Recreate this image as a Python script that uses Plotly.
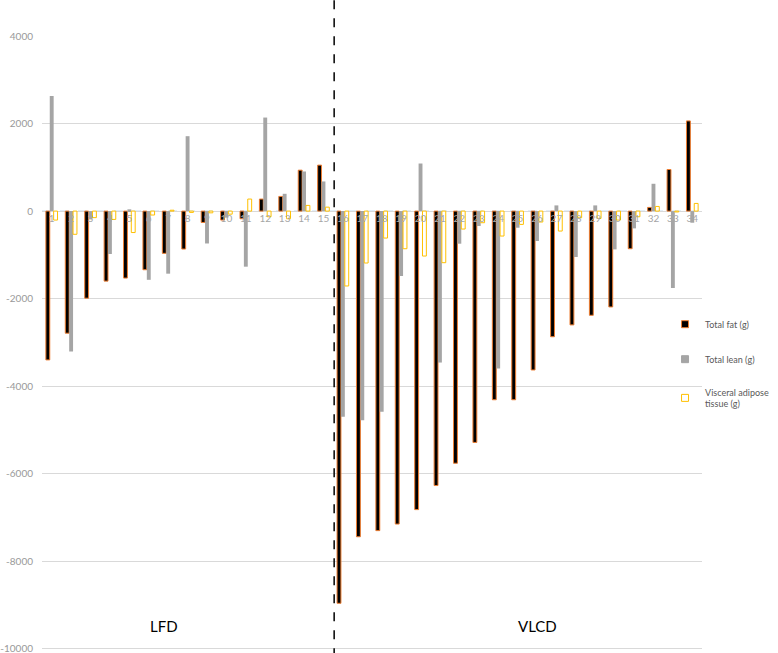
import plotly.graph_objects as go

subjects = list(range(1, 35))
total_fat = [-3400, -2790, -1990, -1600, -1530, -1340, -965, -867, -260, -205, -175, 275, 335, 935, 1050,
             -8960, -7440, -7300, -7150, -6820, -6270, -5760, -5285, -4310, -4310, -3630, -2870, -2600,
             -2380, -2190, -860, 84, 950, 2060]
total_lean = [2630, -3210, -190, -980, 40, -1570, -1430, 1711, -740, -150, -1270, 2137, 395, 905, 677,
              -4700, -4776, -4585, -1483, 1087, -3460, -745, -340, -3597, -380, -684, 130, -1049,
              130, -875, -395, 624, -1757, -266]
visceral = [-205, -530, -150, -190, -490, -90, 20, -30, -40, -70, 275, -130, -175, 130, 90,
            -1711, -1186, -616, -860, -1027, -1179, -410, -266, -570, -304, -250, -456, -152,
            -167, -205, -130, 106, -20, 175]
y_ticks = [4000, 2000, 0, -2000, -4000, -6000, -8000, -10000]
groups = ["LFD", "VLCD"]

FONT = "Lato, Open Sans, sans-serif"
fat_style = dict(color="#000000", line=dict(color="#ED7D31", width=1))
lean_style = dict(color="#A5A5A5", line=dict(color="#A5A5A5", width=0))
visc_style = dict(color="#FFFFFF", line=dict(color="#FFC000", width=1))

fig = go.Figure()
fig.add_bar(x=subjects, y=total_fat, marker=fat_style, showlegend=False)
fig.add_bar(x=subjects, y=total_lean, marker=lean_style, showlegend=False)
fig.add_bar(x=subjects, y=visceral, marker=visc_style, showlegend=False)

# small legend keys
for name, st in [("Total fat (g)", fat_style), ("Total lean (g)", lean_style),
                 ("Visceral adipose<br>tissue (g)", visc_style)]:
    fig.add_scatter(x=[None], y=[None], mode="markers", name=name, legendgroup=name,
                    marker=dict(symbol="square", size=7, color=st["color"],
                                line=dict(color=st["line"]["color"], width=1)))

# zero line and group divider
fig.add_shape(type="line", xref="paper", yref="y", x0=0, x1=1, y0=0, y1=0,
              line=dict(color="#BDD7EE", width=1, dash="dash"), layer="below")
fig.add_shape(type="line", xref="x", yref="paper", x0=15.55, x1=15.55, y0=-0.01, y1=1.06,
              line=dict(color="#000000", width=1.5, dash="dash"))

fig.add_annotation(x=6.8, y=-9480, text=groups[0], showarrow=False,
                   font=dict(family=FONT, size=15, color="#000000"))
fig.add_annotation(x=26.0, y=-9480, text=groups[1], showarrow=False,
                   font=dict(family=FONT, size=15, color="#000000"))

fig.update_layout(
    width=778, height=653,
    margin=dict(l=42, r=76, t=36, b=2),
    plot_bgcolor="white", paper_bgcolor="white",
    barmode="group", bargap=0.4, bargroupgap=0,
    font=dict(family=FONT, color="#8C8C8C", size=10),
    legend=dict(x=0.944, y=0.555, xanchor="left", yanchor="top",
                font=dict(size=9, color="#595959"), tracegroupgap=16,
                bgcolor="rgba(0,0,0,0)"),
)
fig.update_xaxes(range=[0.5, 34.5], tickvals=subjects, ticktext=[str(s) for s in subjects],
                 anchor="free", position=10050 / 14050, showline=False, showgrid=False,
                 zeroline=False, ticks="", automargin=False,
                 tickfont=dict(size=10, color="#A6A6A6"))
fig.update_yaxes(range=[-10050, 4000], tickvals=y_ticks, ticktext=[str(v) for v in y_ticks],
                 showgrid=True, gridcolor="#D9D9D9", zeroline=False, showline=False,
                 ticks="", ticklabelstandoff=8, automargin=False, ticklabeloverflow="allow",
                 tickfont=dict(size=10, color="#999999"))

# the page body has a default 8px margin; drop it so the figure fills the window
fig.write_html("out.html", config={"displayModeBar": False},
               post_script="document.body.style.margin='0px';")
